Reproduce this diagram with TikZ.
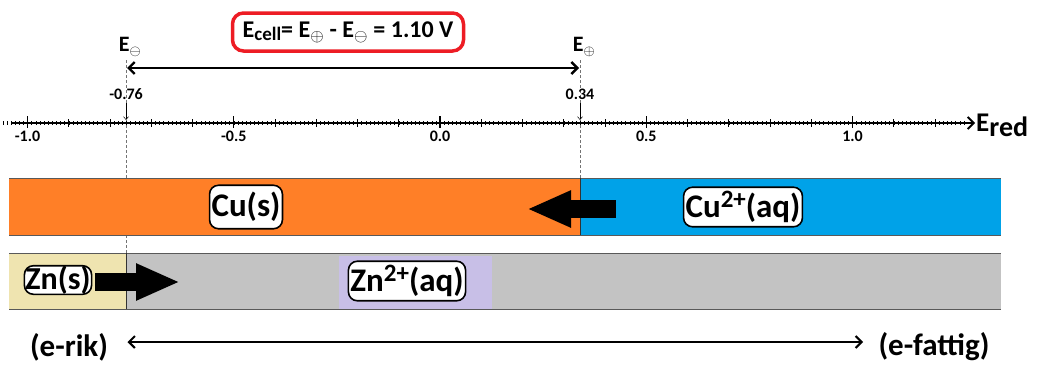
\documentclass[tikz,border=0pt]{standalone}
\usepackage{fontspec}
\setmainfont{Carlito}
\usetikzlibrary{arrows.meta}

\definecolor{cuorange}{RGB}{255,127,39}
\definecolor{cublue}{RGB}{0,162,232}
\definecolor{znbeige}{RGB}{239,228,176}
\definecolor{zngray}{RGB}{195,195,195}
\definecolor{znlilac}{RGB}{200,191,231}
\definecolor{boxred}{RGB}{237,28,36}

\newcommand{\fsz}[1]{\fontsize{#1}{#1}\selectfont}
\newcommand{\ionchg}[1]{\raisebox{10pt}{\fsz{25}#1}}

\begin{document}
\begin{tikzpicture}[
    x=1pt, y=-1pt,
    every node/.style={font=\bfseries},
    species/.style={rectangle, rounded corners=9pt, draw=black, line width=1.6pt, fill=white, inner xsep=2pt, inner ysep=7pt, font=\bfseries\fsz{33}},
    bandline/.style={draw=black!65, line width=0.7pt},
    guide/.style={densely dashed, draw=black!55, line width=0.4pt},
    fatarrow/.style={line width=18pt, -{Triangle[length=44pt, width=34pt]}},
    gap/.style={line width=2.4pt, {Straight Barb[length=6pt, width=12pt]}-{Straight Barb[length=6pt, width=12pt]}},
    scalearrow/.style={line width=2pt, {Straight Barb[length=6pt, width=12pt]}-{Straight Barb[length=6pt, width=12pt]}},
    ticklabel/.style={font=\bfseries\fsz{16}, anchor=north}
]
    \useasboundingbox (0,0) rectangle (1041,364);

    % guide lines at the two electrode potentials
    \draw[guide] (126,60) -- (126,253);
    \draw[guide] (580,60) -- (580,178);

    % Cu band
    \fill[cuorange] (9,178) rectangle (580,235);
    \fill[cublue] (580,178) rectangle (1001,235);
    \draw[bandline] (9,178) -- (1001,178);
    \draw[bandline] (9,235) -- (1001,235);
    \draw[black!80, line width=0.6pt] (580,178) -- (580,235);

    % Zn band
    \fill[znbeige] (9,253) rectangle (126,309);
    \fill[zngray] (126,253) rectangle (1001,309);
    \fill[znlilac] (339,256) rectangle (492,309);
    \draw[bandline] (9,253) -- (1001,253);
    \draw[bandline] (9,309) -- (1001,309);
    \draw[black!80, line width=0.6pt] (126,253) -- (126,309);

    % species
    \node[species] (cus) at (246,207) {Cu(s)};
    \node[species, inner ysep=4pt] (cuaq) at (743,207) {Cu\ionchg{2+}(aq)};
    \node[species, inner ysep=0pt, inner xsep=1pt, font=\bfseries\fsz{32}] (zns) at (58,280) {Zn(s)};
    \node[species, inner ysep=4pt] (znaq) at (407,281) {Zn\ionchg{2+}(aq)};

    % electron transfer arrows
    \coordinate (cutail) at (616,209);
    \coordinate (cutip) at (527,209);
    \draw[fatarrow] (cutail) -- (cutip);
    \coordinate (zntip) at (180,282);
    \draw[fatarrow] (zns.east) ++(3,2) -- (zntip);

    % E_red axis
    \coordinate (axL) at (11,123);
    \coordinate (axR) at (975,123);
    \draw[line width=1.8pt, -{Straight Barb[length=6pt, width=12pt]}] (axL) -- (axR);
    \foreach \v in {-107,...,127}
        \draw[line width=0.5pt] ({440+4.125*\v},121) -- ++(0,4);
    \foreach \v in {-10,...,12}
        \draw[line width=0.9pt] ({440+41.25*\v},119) -- ++(0,8);
    \foreach \v/\t in {-2/-1.0,-1/-0.5,0/0.0,1/0.5,2/1.0} {
        \draw[line width=1.3pt] ({440+206.25*\v},116) -- ++(0,12);
        \node[ticklabel] (tick\v) at ({440+206.25*\v},127) {\t};
    }
    \node[anchor=west, inner sep=1pt] (ered) at ([yshift=-2pt]axR) {\fsz{27}E\raisebox{-5pt}{\fsz{28}red}};

    % electrode potentials
    \node (vneg) at (126,94) {\fsz{16}-0.76};
    \node (vpos) at (580,94) {\fsz{16}0.34};
    \draw[line width=0.5pt, -{Straight Barb[length=3pt, width=5pt]}] (vneg.south) -- (126,120);
    \draw[line width=0.5pt, -{Straight Barb[length=3pt, width=5pt]}] (vpos.south) -- (580,120);
    \node (eneg) at (130,47) {\fsz{22}E$_{\ominus}$};
    \node (epos) at (584,47) {\fsz{22}E$_{\oplus}$};
    \coordinate (gapL) at (127,68);
    \coordinate (gapR) at (579,68);
    \draw[gap] (gapL) -- (gapR);

    % cell potential
    \node[draw=boxred, line width=3.5pt, rounded corners=11pt, minimum width=231pt, minimum height=38pt] (ecell) at (348,32)
        {\fsz{24}E\raisebox{-3pt}{\fsz{19}cell}= E$_{\oplus}$ - E$_{\ominus}$ = 1.10 V};

    % electron richness scale
    \node (erik) at (69,347) {\fsz{31}(e-rik)};
    \node (efattig) at (934,347) {\fsz{31}(e-fattig)};
    \draw[scalearrow] ([xshift=16pt, yshift=5pt]erik.east) -- ([xshift=-12pt, yshift=5pt]efattig.west);
\end{tikzpicture}
\end{document}
